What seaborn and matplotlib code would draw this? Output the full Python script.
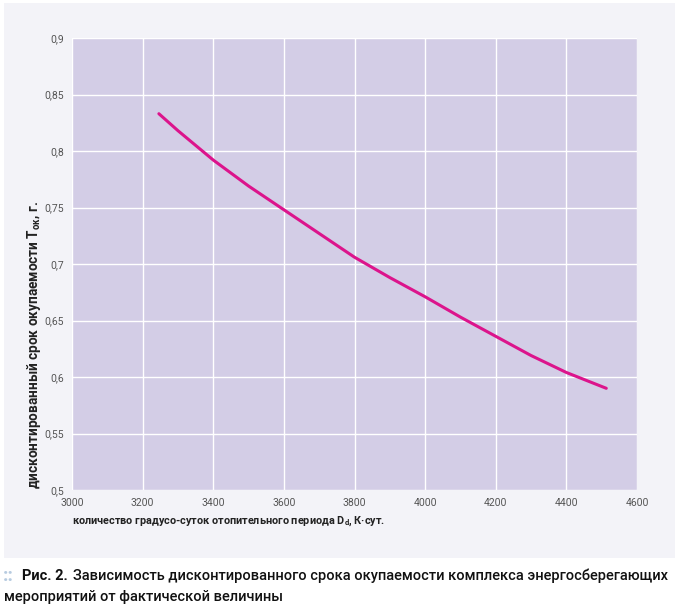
import seaborn as sns
import matplotlib.pyplot as plt
import pandas as pd
from matplotlib.patches import Rectangle

# values
degree_days = [3246, 3300, 3400, 3500, 3600, 3700, 3800, 3900, 4000, 4100, 4200, 4300, 4400, 4513]
payback = [0.833, 0.818, 0.792, 0.769, 0.748, 0.727, 0.706, 0.688, 0.671, 0.653, 0.636, 0.619, 0.604, 0.590]

x_ticks = [3000, 3200, 3400, 3600, 3800, 4000, 4200, 4400, 4600]
y_ticks = [0.5, 0.55, 0.6, 0.65, 0.7, 0.75, 0.8, 0.85, 0.9]
y_labels = ['0,5', '0,55', '0,6', '0,65', '0,7', '0,75', '0,8', '0,85', '0,9']

df = pd.DataFrame({'Dd': degree_days, 'T': payback})

sns.set_style('white')
plt.rcParams['font.family'] = ['Roboto', 'DejaVu Sans']
plt.rcParams['mathtext.fontset'] = 'custom'
plt.rcParams['mathtext.rm'] = 'Roboto'
plt.rcParams['mathtext.it'] = 'Roboto:bold'
plt.rcParams['mathtext.bf'] = 'Roboto:bold'

fig = plt.figure(figsize=(6.79, 6.08), dpi=100)
fig.patch.set_facecolor('white')
fig.patches.append(Rectangle((4 / 679, 1 - 558 / 608), 671 / 679, 555 / 608,
                             transform=fig.transFigure, facecolor='#f3f3f8',
                             edgecolor='none', zorder=-5))

ax = fig.add_axes([72 / 679, 1 - 490 / 608, 565 / 679, 452 / 608])
ax.set_facecolor('#d3cde6')
sns.lineplot(data=df, x='Dd', y='T', ax=ax, color='#dc148c', linewidth=2.2)

ax.set_xlim(3000, 4600)
ax.set_ylim(0.5, 0.9)
ax.set_xticks(x_ticks)
ax.set_xticklabels([str(v) for v in x_ticks])
ax.set_yticks(y_ticks)
ax.set_yticklabels(y_labels)
ax.tick_params(length=0, labelsize=7.5, labelcolor='#555555', pad=6)
ax.grid(True, color='white', linewidth=1.0)
ax.set_axisbelow(True)
for s in ax.spines.values():
    s.set_visible(False)
ax.set_xlabel('')
ax.set_ylabel('')

fig.text(72 / 679, 1 - 521 / 608, 'количество градусо-суток отопительного периода D$_d$, К·сут.',
         fontsize=7.8, fontweight='bold', color='#222222', ha='left', va='center')
fig.text(34 / 679, 1 - 489 / 608, 'дисконтированный срок окупаемости T$_{ок}$, г.',
         fontsize=9.8, fontweight='bold', color='#222222', rotation=90,
         ha='left', va='center', rotation_mode='anchor')

# caption
cap_y = 1 - 576 / 608
fig.text(3 / 679, cap_y, '::', fontsize=14, fontweight='bold', color='#b7cbe0',
         ha='left', va='center')
head = fig.text(22 / 679, cap_y, 'Рис. 2.', fontsize=10.5, fontweight='bold', color='#111111',
                ha='left', va='center')
renderer = fig.canvas.get_renderer()
bb = head.get_window_extent(renderer)
fig.text((bb.x1 + 5) / 679, cap_y,
         'Зависимость дисконтированного срока окупаемости комплекса энергосберегающих',
         fontsize=10.5, fontweight='medium', color='#111111', ha='left', va='center')
fig.text(4 / 679, 1 - 597 / 608, 'мероприятий от фактической величины',
         fontsize=10.5, fontweight='medium', color='#111111', ha='left', va='center')

fig.savefig('out.png', dpi=100, facecolor=fig.get_facecolor())
